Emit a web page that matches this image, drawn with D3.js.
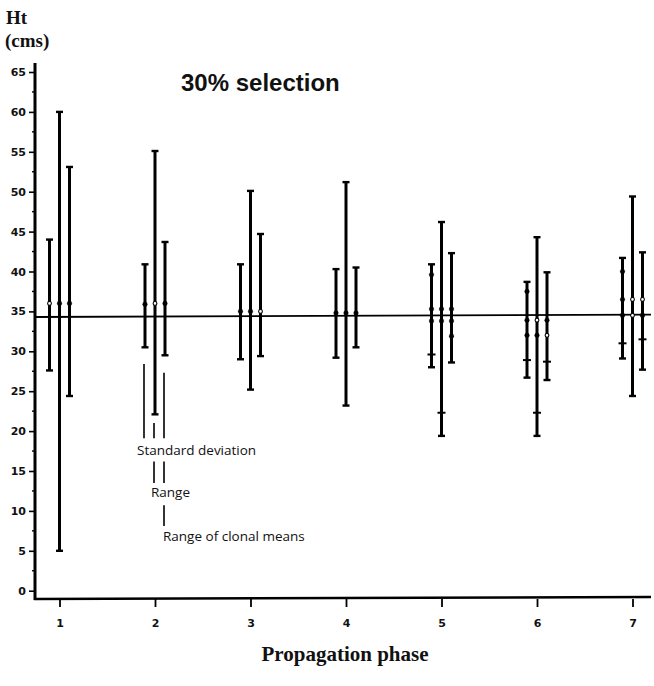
<!DOCTYPE html>
<html>
<head>
<meta charset="utf-8">
<script src="https://cdn.jsdelivr.net/npm/d3@7"></script>
<style>
  body { margin: 0; background: #fff; }
</style>
</head>
<body>
<svg id="chart" width="654" height="686"></svg>
<script>
// values (height in cm)
const phases = [1, 2, 3, 4, 5, 6, 7];
const sdLow = [27.6, 30.5, 29.0, 29.2, 28.0, 26.7, 29.1];
const sdHigh = [44.0, 40.9, 40.9, 40.3, 40.9, 38.7, 41.7];
const rangeLow = [5.0, 22.1, 25.2, 23.2, 19.4, 19.4, 24.4];
const rangeHigh = [60.0, 55.1, 50.1, 51.2, 46.2, 44.3, 49.4];
const clonalLow = [24.4, 29.5, 29.4, 30.5, 28.6, 26.4, 27.7];
const clonalHigh = [53.1, 43.7, 44.7, 40.5, 42.3, 39.9, 42.4];

// marks along each bar: [value, kind]  (dot = filled, open = hollow, tick = cross bar)
const sdMarks = [
    [[36.0, "open"]],
    [[35.9, "dot"]],
    [[35.0, "dot"]],
    [[34.8, "dot"]],
    [[39.6, "dot"], [35.3, "dot"], [33.8, "dot"], [29.6, "tick"]],
    [[37.5, "dot"], [33.9, "dot"], [32.0, "dot"], [28.9, "tick"]],
    [[40.0, "dot"], [36.5, "dot"], [34.5, "dot"], [31.0, "tick"]]
];
const rangeMarks = [
    [[36.0, "dot"]],
    [[36.0, "open"]],
    [[35.0, "dot"]],
    [[34.8, "dot"]],
    [[35.3, "dot"], [33.8, "dot"], [22.3, "tick"]],
    [[33.9, "open"], [32.0, "dot"], [22.3, "tick"]],
    [[36.5, "open"], [34.5, "open"]]
];
const clonalMarks = [
    [[36.0, "dot"]],
    [[36.0, "dot"]],
    [[35.0, "open"]],
    [[34.8, "dot"]],
    [[35.3, "dot"], [33.8, "dot"], [31.9, "dot"]],
    [[33.9, "dot"], [32.0, "open"], [28.7, "tick"]],
    [[36.5, "open"], [34.5, "dot"], [31.5, "tick"]]
];

const refLine = [34.3, 34.6];          // overall mean line, left / right end
const yTicks = d3.range(0, 66, 5);
const yMinor = d3.range(2.5, 65, 5);

// leader lines under phase 2 (bar offset index, from value, to value)
const leaders = [
    [0, 28.4, 19.1], [1, 21.0, 19.1], [2, 27.3, 19.1],
    [1, 16.2, 13.5], [2, 16.2, 13.5],
    [2, 10.7, 8.1]
];

const svg = d3.select("#chart");
const x = d3.scaleLinear().domain([1, 7]).range([59.5, 632.5]);
const y = d3.scaleLinear().domain([0, 65]).range([590.7, 72]);
const axisX = 35, axisY = 599, axisRight = 651;
const offsets = [-10, 0, 10];

// y axis
const yAxis = d3.axisLeft(y).tickValues(yTicks).tickSize(6).tickPadding(3);
const gy = svg.append("g").attr("transform", `translate(${axisX},0)`).call(yAxis);
gy.select(".domain").remove();
gy.selectAll(".tick line").attr("stroke", "#000").attr("stroke-width", 1.6);
gy.selectAll(".tick text")
    .attr("font-family", "DejaVu Sans")
    .attr("font-weight", "bold")
    .attr("font-size", 11)
    .attr("fill", "#111");
svg.append("g").selectAll("line").data(yMinor).join("line")
    .attr("x1", axisX - 3).attr("x2", axisX)
    .attr("y1", d => y(d)).attr("y2", d => y(d))
    .attr("stroke", "#000").attr("stroke-width", 1.4);
svg.append("line")
    .attr("x1", axisX).attr("x2", axisX).attr("y1", 63).attr("y2", axisY + 1)
    .attr("stroke", "#000").attr("stroke-width", 3);

// x axis
svg.append("line")
    .attr("x1", axisX - 1).attr("x2", axisRight).attr("y1", axisY).attr("y2", axisY - 2)
    .attr("stroke", "#000").attr("stroke-width", 2.5);
const xAxis = d3.axisBottom(x).tickValues(phases).tickFormat(d3.format("d"))
    .tickSize(8).tickPadding(12);
const gx = svg.append("g").attr("transform", `translate(0,${axisY})`).call(xAxis);
gx.select(".domain").remove();
gx.selectAll(".tick line").attr("stroke", "#000").attr("stroke-width", 1.8);
gx.selectAll(".tick text")
    .attr("font-family", "DejaVu Sans")
    .attr("font-weight", "bold")
    .attr("font-size", 11)
    .attr("fill", "#111");

// overall mean line
svg.append("line")
    .attr("x1", axisX).attr("x2", axisRight)
    .attr("y1", y(refLine[0])).attr("y2", y(refLine[1]))
    .attr("stroke", "#000").attr("stroke-width", 1.8);

// bars
const bars = [];
phases.forEach((p, i) => {
    bars.push({ cx: x(p) + offsets[0], lo: sdLow[i], hi: sdHigh[i], marks: sdMarks[i] });
    bars.push({ cx: x(p) + offsets[1], lo: rangeLow[i], hi: rangeHigh[i], marks: rangeMarks[i] });
    bars.push({ cx: x(p) + offsets[2], lo: clonalLow[i], hi: clonalHigh[i], marks: clonalMarks[i] });
});

const gb = svg.append("g");
gb.selectAll(".bar").data(bars).join("line")
    .attr("class", "bar")
    .attr("x1", d => d.cx).attr("x2", d => d.cx)
    .attr("y1", d => y(d.hi)).attr("y2", d => y(d.lo))
    .attr("stroke", "#000").attr("stroke-width", 3);

const caps = bars.flatMap(d => [{ cx: d.cx, v: d.hi }, { cx: d.cx, v: d.lo }]);
gb.selectAll(".cap").data(caps).join("line")
    .attr("class", "cap")
    .attr("x1", d => d.cx - 3.5).attr("x2", d => d.cx + 3.5)
    .attr("y1", d => y(d.v)).attr("y2", d => y(d.v))
    .attr("stroke", "#000").attr("stroke-width", 2.4);

const marks = bars.flatMap(d => d.marks.map(m => ({ cx: d.cx, v: m[0], kind: m[1] })));
gb.selectAll(".tickmark").data(marks.filter(m => m.kind === "tick")).join("line")
    .attr("class", "tickmark")
    .attr("x1", d => d.cx - 4).attr("x2", d => d.cx + 4)
    .attr("y1", d => y(d.v)).attr("y2", d => y(d.v))
    .attr("stroke", "#000").attr("stroke-width", 2);
gb.selectAll(".dot").data(marks.filter(m => m.kind !== "tick")).join("circle")
    .attr("class", "dot")
    .attr("cx", d => d.cx).attr("cy", d => y(d.v))
    .attr("r", d => d.kind === "open" ? 1.9 : 2.3)
    .attr("fill", d => d.kind === "open" ? "#fff" : "#000")
    .attr("stroke", "#000").attr("stroke-width", d => d.kind === "open" ? 1.1 : 0.4);

// legend leaders and notes under phase 2
svg.append("g").selectAll("line").data(leaders).join("line")
    .attr("x1", d => x(2) + offsets[d[0]] - 1).attr("x2", d => x(2) + offsets[d[0]] - 1)
    .attr("y1", d => y(d[1])).attr("y2", d => y(d[2]))
    .attr("stroke", "#000").attr("stroke-width", 1.6);

const notes = [
    ["Standard deviation", -18, 17.0],
    ["Range", -4, 11.7],
    ["Range of clonal means", 8, 6.2]
];
svg.append("g").selectAll("text").data(notes).join("text")
    .attr("x", d => x(2) + d[1]).attr("y", d => y(d[2]))
    .attr("font-family", "Open Sans")
    .attr("font-size", 13.5)
    .attr("fill", "#111")
    .text(d => d[0]);

// titles
svg.append("text").attr("x", 181).attr("y", 91)
    .attr("font-family", "Liberation Sans").attr("font-weight", "bold")
    .attr("font-size", 24).attr("fill", "#111")
    .text("30% selection");
svg.append("text").attr("x", 6).attr("y", 24)
    .attr("font-family", "Liberation Serif").attr("font-weight", "bold")
    .attr("font-size", 19).attr("fill", "#111")
    .text("Ht");
svg.append("text").attr("x", 5).attr("y", 47)
    .attr("font-family", "Liberation Serif").attr("font-weight", "bold")
    .attr("font-size", 19).attr("fill", "#111")
    .text("(cms)");
svg.append("text").attr("x", 345).attr("y", 661)
    .attr("text-anchor", "middle")
    .attr("font-family", "Liberation Serif").attr("font-weight", "bold")
    .attr("font-size", 21).attr("fill", "#111")
    .text("Propagation phase");
</script>
</body>
</html>
